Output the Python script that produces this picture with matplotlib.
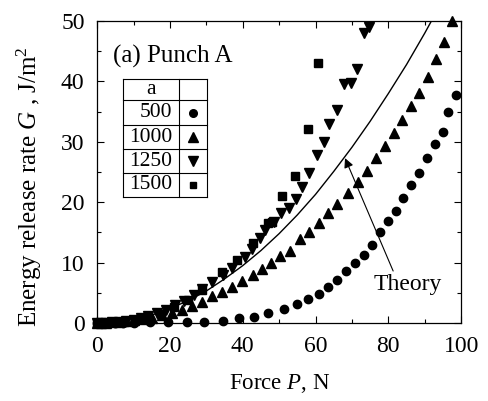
import numpy as np
import matplotlib.pyplot as plt
from matplotlib.ticker import MultipleLocator

plt.rcParams['font.family'] = ['Liberation Serif', 'DejaVu Serif']
plt.rcParams['mathtext.fontset'] = 'custom'
plt.rcParams['mathtext.rm'] = 'Liberation Serif'
plt.rcParams['mathtext.it'] = 'Liberation Serif:italic'

# a = 500 (circles)
f500 = [0, 0.7, 1.5, 3, 5, 7, 10, 14.6, 19.5, 24.7, 29.4, 34.5, 39, 43.1, 46.9,
        51.2, 55, 57.9, 61, 63.4, 66, 68.4, 70.9, 73.2, 75.6, 77.7, 79.8, 82.1,
        84.1, 86.3, 88.5, 90.6, 92.7, 94.9, 96.5, 98.6]
g500 = [0, 0, 0, 0, 0, 0, 0, 0.1, 0.1, 0.1, 0.2, 0.4, 0.8, 1.05, 1.6,
        2.3, 3.1, 4.0, 4.8, 5.9, 7.2, 8.6, 10.0, 11.2, 12.9, 15.0, 16.9, 18.6,
        20.7, 22.8, 24.8, 27.4, 29.6, 31.7, 35.0, 37.8]

# a = 1000 (up triangles)
f1000 = [0, 1, 2.5, 4, 6, 8, 10, 12.5, 15, 17.8, 20.5, 23.3, 26, 28.7, 31.5,
         34.3, 37, 39.8, 42.7, 45.2, 47.7, 50.3, 53, 55.8, 58.3, 61, 63.5, 66,
         69, 71.8, 74.1, 76.6, 79.1, 81.6, 83.7, 86.2, 88.5, 90.9, 93.1, 95.4, 97.6]
g1000 = [0, 0, 0.05, 0.1, 0.2, 0.3, 0.45, 0.6, 0.9, 1.3, 1.7, 2.15, 2.8, 3.5, 4.5,
         5.2, 5.9, 7.0, 7.9, 8.9, 9.9, 11.1, 12.0, 13.9, 15.1, 16.6, 18.2, 19.7,
         21.6, 23.4, 25.2, 27.3, 29.3, 31.5, 33.6, 35.9, 38.1, 40.8, 43.7, 46.6, 50.0]

# a = 1250 (down triangles)
f1250 = [0, 1, 2.5, 4, 6, 8, 10, 12, 14, 16.5, 19, 21.5, 24, 26.5, 28.8, 31.5,
         34.7, 37, 40.7, 42.5, 44.8, 46.2, 48.5, 50.5, 52.6, 54.7, 56.2, 58.2,
         60.4, 62.2, 63.8, 65.9, 67.9, 69.7, 71.3, 73.2, 74.8]
g1250 = [0, 0, 0.05, 0.1, 0.2, 0.35, 0.5, 0.8, 1.1, 1.6, 2.2, 2.9, 3.7, 4.6, 5.7, 6.8,
         7.9, 9.1, 11.0, 12.3, 14.0, 15.4, 16.8, 18.2, 19.1, 20.6, 22.6, 24.8,
         27.9, 29.9, 32.9, 35.3, 39.6, 39.8, 42.0, 48.0, 49.0]

# a = 1500 (squares)
f1500 = [0, 2, 4.5, 7.5, 10.5, 14, 17.5, 21, 25, 28.8, 34.3, 38.4, 42.9, 46.9,
         48, 50.9, 54.4, 57.9, 60.8]
g1500 = [0, 0, 0.1, 0.2, 0.5, 0.9, 1.5, 2.6, 3.8, 5.5, 8.5, 10.4, 13.2, 16.5,
         16.8, 21.0, 24.3, 32.2, 43.0]

# theory curve
f_th = [0, 5, 10, 15, 20, 25, 30, 35, 40, 45, 50, 55, 60, 65, 70, 75, 80, 85, 90, 92]
g_th = [0, 0.15, 0.6, 1.3, 2.4, 3.7, 5.3, 7.3, 9.5, 12.0, 14.8, 17.9, 21.3, 25.1,
        29.1, 33.4, 38.0, 42.8, 48.0, 50.2]

table_a = ['500', '1000', '1250', '1500']
markers = ['o', '^', 'v', 's']
msizes = [6, 7, 7, 5.5]

fig = plt.figure(figsize=(4.88, 4.01), dpi=100)
ax = fig.add_axes([0.199, 0.1945, 0.746, 0.753])

series = [(f500, g500), (f1000, g1000), (f1250, g1250), (f1500, g1500)]
for (f, g), m, ms in zip(series, markers, msizes):
    ax.plot(f, g, linestyle='none', marker=m, ms=ms, color='black', clip_on=False, zorder=3)

ax.plot(f_th, g_th, color='black', lw=1.0)

ax.set_xlim(0, 100)
ax.set_ylim(0, 50)
ax.xaxis.set_major_locator(MultipleLocator(20))
ax.xaxis.set_minor_locator(MultipleLocator(10))
ax.yaxis.set_major_locator(MultipleLocator(10))
ax.yaxis.set_minor_locator(MultipleLocator(5))
ax.tick_params(which='both', direction='in', top=True, right=True, labelsize=17, width=0.8)
ax.tick_params(which='major', length=5)
ax.tick_params(axis='x', which='major', pad=9)
ax.tick_params(axis='y', which='major', pad=9)
ax.tick_params(which='minor', length=3)
for s in ax.spines.values():
    s.set_linewidth(0.9)

ax.set_xlabel('Force $P$, N', fontsize=16.5, labelpad=11)
ax.set_ylabel('Energy release rate $G$ , J/m$^2$', fontsize=18, labelpad=10)
ax.yaxis.set_label_coords(-0.145, 0.45)

ax.text(0.043, 0.884, '(a) Punch A', transform=ax.transAxes, fontsize=18, va='center', ha='left')

# table legend
tl, tr, tdiv = 0.072, 0.301, 0.225
rows = [0.808, 0.738, 0.656, 0.576, 0.497, 0.418]
for y in rows:
    ax.plot([tl, tr], [y, y], transform=ax.transAxes, color='black', lw=0.8)
for x in [tl, tdiv, tr]:
    ax.plot([x, x], [rows[0], rows[-1]], transform=ax.transAxes, color='black', lw=0.8)
ax.text((tl + tdiv) / 2, (rows[0] + rows[1]) / 2, 'a', transform=ax.transAxes,
        fontsize=15.5, ha='center', va='center')
for i, lab in enumerate(table_a):
    yc = (rows[i + 1] + rows[i + 2]) / 2
    ax.text(0.207, yc, lab, transform=ax.transAxes, fontsize=15.5, ha='right', va='center')
    ax.plot(0.263, yc, transform=ax.transAxes, marker=markers[i], ms=msizes[i] - 0.5,
            color='black', linestyle='none')

ax.annotate('Theory', xy=(68.1, 27.3), xytext=(85.4, 5.5), fontsize=17,
            ha='center', va='baseline',
            arrowprops=dict(arrowstyle='-|>', color='black', lw=0.8, mutation_scale=14,
                            shrinkA=0, shrinkB=0, relpos=(0.3, 1.0)))

fig.savefig('out.png', dpi=100)
